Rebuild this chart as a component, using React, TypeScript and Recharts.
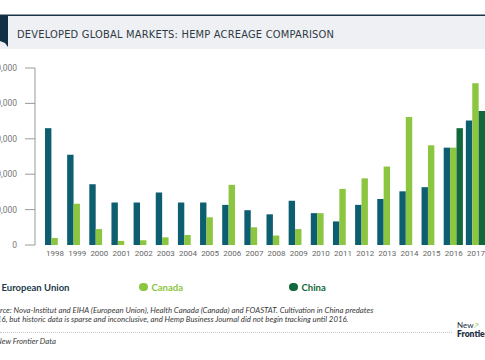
import { BarChart, Bar, XAxis, YAxis } from 'recharts';

const years = ['1998', '1999', '2000', '2001', '2002', '2003', '2004', '2005', '2006', '2007',
  '2008', '2009', '2010', '2011', '2012', '2013', '2014', '2015', '2016', '2017'];
const euAcres = [99000, 76500, 51500, 36000, 36000, 44500, 36000, 36000, 34000, 29500,
  26000, 37500, 27000, 20000, 34000, 39000, 45500, 49000, 82500, 105500];
const canadaAcres = [6000, 35000, 13500, 3500, 4000, 6500, 8500, 23500, 51000, 15000,
  8000, 13500, 27000, 47500, 56500, 66500, 108500, 84500, 82500, 137000];
const chinaAcres = [null, null, null, null, null, null, null, null, null, null,
  null, null, null, null, null, null, null, null, 99000, 113500];
const yTicks = [0, 30000, 60000, 90000, 120000, 150000];

const seriesNames = ['European Union', 'Canada', 'China'];
const seriesColors = ['#0d5e70', '#8cc540', '#11683a'];
const legendTextColors = ['#1d3a4c', '#8cc540', '#11683a'];

const chartData = years.map((year, i) => ({
  year,
  eu: euAcres[i],
  canada: canadaAcres[i],
  china: chinaAcres[i],
}));

const title = 'DEVELOPED GLOBAL MARKETS: HEMP ACREAGE COMPARISON';
const sourceLine1 = 'Source: Nova-Institut and EIHA (European Union), Health Canada (Canada) and FOASTAT. Cultivation in China predates';
const sourceLine2 = '2016, but historic data is sparse and inconclusive, and Hemp Business Journal did not begin tracking until 2016.';
const credit = '\u00a9 New Frontier Data';

const formatAcres = (value: number) => value.toLocaleString('en-US');

export default function App() {
  return (
    <div style={{ position: 'absolute', left: 0, top: 0, width: 485, height: 360, overflow: 'hidden', background: '#fff', fontFamily: 'Lato, "Open Sans", sans-serif' }}>
      <svg width={485} height={52} style={{ position: 'absolute', left: 0, top: 0 }}>
        <rect x={0} y={16} width={485} height={33} fill="#eef0f3" />
        <rect x={0} y={14.5} width={485} height={1.5} fill="#1b3446" />
        <polygon points="0,15 8,15 8,47 5,43 0,41" fill="#123044" />
        <text x={17} y={37.5} fontSize={11} fill="#2e3a44" textLength={317} lengthAdjust="spacing"
          style={{ fontFamily: '"DejaVu Sans Condensed", "DejaVu Sans", sans-serif' }}>
          {title}
        </text>
      </svg>

      <div style={{ position: 'absolute', left: 0, top: 0 }}>
        <BarChart width={492} height={270} data={chartData} barGap={0} barSize={6.4}
          margin={{ top: 68, right: 5, left: 0, bottom: 0 }}>
          <XAxis dataKey="year" axisLine={false} tickLine={false} interval={0} height={25}
            padding={{ left: 9, right: 0 }} tickSize={0} tickMargin={5}
            tick={{ fontSize: 8, fill: '#666', fontFamily: '"Liberation Sans Narrow", Roboto, sans-serif' }} />
          <YAxis width={35} domain={[0, 150000]} ticks={yTicks} tickFormatter={formatAcres}
            stroke="#9a9a9a" tickSize={10} tickMargin={8}
            tick={{ fontSize: 8.5, fill: '#777', fontFamily: '"Liberation Sans Narrow", Roboto, sans-serif' }} />
          <Bar dataKey="eu" name={seriesNames[0]} fill={seriesColors[0]} isAnimationActive={false} />
          <Bar dataKey="canada" name={seriesNames[1]} fill={seriesColors[1]} isAnimationActive={false} />
          <Bar dataKey="china" name={seriesNames[2]} fill={seriesColors[2]} isAnimationActive={false} />
        </BarChart>
      </div>

      {seriesNames.map((name, i) => (
        <div key={name} style={{ position: 'absolute', left: -11 + 150 * i, top: 281, height: 12, display: 'flex', alignItems: 'center', whiteSpace: 'nowrap' }}>
          <span style={{ width: 8.5, height: 8.5, borderRadius: '50%', background: seriesColors[i], display: 'inline-block', marginRight: 4 }} />
          <span style={{ fontSize: 9.5, fontWeight: 700, color: legendTextColors[i] }}>{name}</span>
        </div>
      ))}

      <div style={{ position: 'absolute', left: -12, top: 306, fontSize: 7.8, fontStyle: 'italic', color: '#3a3a3a', lineHeight: '9px', whiteSpace: 'nowrap' }}>
        <div>{sourceLine1}</div>
        <div>{sourceLine2}</div>
      </div>

      <div style={{ position: 'absolute', left: 0, top: 332, width: 452, borderTop: '1px dotted #c8c8c8' }} />

      <div style={{ position: 'absolute', left: -12, top: 336, fontSize: 7.8, fontStyle: 'italic', color: '#3a3a3a', whiteSpace: 'nowrap' }}>
        {credit}
      </div>

      <div style={{ position: 'absolute', left: 457, top: 321, color: '#1c2e3e', lineHeight: '9px', whiteSpace: 'nowrap' }}>
        <div style={{ fontSize: 8 }}>New<span style={{ color: '#8cc540', fontSize: 7 }}>{'\u2197'}</span></div>
        <div style={{ fontSize: 8.5, fontWeight: 800 }}>Frontier</div>
      </div>
    </div>
  );
}
